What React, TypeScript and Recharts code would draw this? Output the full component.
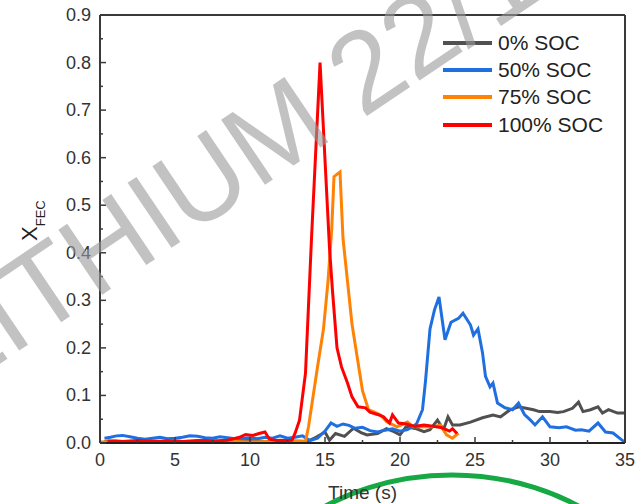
import React from 'react';
import { LineChart, Line, XAxis, YAxis, Legend } from 'recharts';

// 0% SOC
const soc0Time = [
  0.3, 1, 2, 3, 4, 5, 6, 7, 8, 9,
  10, 11, 12, 13, 13.8, 14.4, 15, 15.3, 15.7, 16.3,
  16.9, 17.4, 17.8, 18.5, 19.1, 19.6, 20, 20.4, 21.1, 21.6,
  22, 22.5, 22.9, 23.2, 23.5, 24, 24.7, 25.5, 26.2, 26.7,
  27.3, 27.9, 28.4, 28.9, 29.3, 30, 30.5, 30.9, 31.5, 31.9,
  32.2, 32.7, 33.2, 33.5, 33.9, 34.5, 35,
];
const soc0Values = [
  0.003, 0.004, 0.002, 0.005, 0.003, 0.004, 0.002, 0.005, 0.003, 0.004,
  0.005, 0.003, 0.006, 0.004, 0.003, 0.012, 0.023, 0.006, 0.02, 0.014,
  0.031, 0.022, 0.017, 0.02, 0.03, 0.024, 0.017, 0.034, 0.03, 0.024,
  0.028, 0.048, 0.028, 0.055, 0.038, 0.038, 0.044, 0.053, 0.059, 0.055,
  0.069, 0.076, 0.073, 0.07, 0.066, 0.066, 0.064, 0.066, 0.073, 0.086,
  0.066, 0.07, 0.076, 0.063, 0.07, 0.063, 0.063,
];

// 50% SOC
const soc50Time = [
  0.3, 0.7, 1.1, 1.5, 2, 2.5, 3, 3.5, 4, 4.5,
  5, 5.5, 6, 6.5, 7, 7.5, 8, 8.5, 9, 9.5,
  10, 10.5, 11, 11.5, 12, 12.5, 13, 13.5, 14, 14.5,
  15, 15.4, 15.8, 16.2, 16.6, 17, 17.5, 18, 18.5, 19,
  19.5, 20, 20.5, 21.1, 21.5, 21.7, 22, 22.3, 22.6, 23,
  23.4, 23.9, 24.2, 24.7, 24.9, 25.2, 25.5, 25.7, 26, 26.2,
  26.5, 27, 27.5, 27.9, 28.3, 28.7, 29, 29.5, 30, 30.6,
  31.1, 31.7, 32.1, 32.6, 33.2, 33.7, 34.2, 34.8, 35,
];
const soc50Values = [
  0.01, 0.012, 0.015, 0.016, 0.013, 0.01, 0.008, 0.01, 0.012, 0.009,
  0.01, 0.012, 0.015, 0.014, 0.011, 0.01, 0.013, 0.011, 0.009, 0.01,
  0.011, 0.009, 0.012, 0.01, 0.015, 0.01, 0.012, 0.015, 0.005, 0.01,
  0.025, 0.042, 0.035, 0.04, 0.037, 0.031, 0.033, 0.026, 0.023, 0.027,
  0.03, 0.025, 0.028, 0.04, 0.07, 0.13, 0.24, 0.28, 0.307, 0.217,
  0.254, 0.262, 0.273, 0.248, 0.227, 0.24, 0.19, 0.14, 0.118, 0.126,
  0.084, 0.074, 0.07, 0.084, 0.06, 0.048, 0.038, 0.055, 0.034, 0.032,
  0.034, 0.027, 0.028, 0.025, 0.042, 0.023, 0.021, 0.006, 0.002,
];

// 75% SOC
const soc75Time = [
  0, 1, 2, 3, 4, 5, 6, 7, 8, 9,
  10, 11, 12, 13, 13.7, 13.9, 14.2, 14.5, 14.9, 15.2,
  15.45, 15.6, 16, 16.2, 16.8, 17.3, 17.5, 17.9, 18.3, 18.7,
  19.1, 19.8, 20.5, 20.9, 21.5, 22.2, 22.7, 23.1, 23.5, 23.9,
];
const soc75Values = [
  0.002, 0.003, 0.001, 0.003, 0.002, 0.004, 0.002, 0.003, 0.001, 0.003,
  0.002, 0.003, 0.002, 0.004, 0.003, 0.034, 0.097, 0.16, 0.24, 0.34,
  0.45, 0.56, 0.57, 0.43, 0.25, 0.15, 0.11, 0.07, 0.065, 0.059,
  0.045, 0.034, 0.044, 0.034, 0.034, 0.034, 0.038, 0.017, 0.01, 0.021,
];

// 100% SOC
const soc100Time = [
  0.5, 1.5, 2.5, 3.5, 4.5, 5.5, 6.5, 7.5, 8.5, 9.3,
  9.7, 10.2, 10.6, 11, 11.3, 11.8, 12.3, 12.8, 13, 13.3,
  13.7, 14.1, 14.67, 15.3, 15.5, 15.8, 16.1, 16.5, 16.8, 17.2,
  17.7, 18, 18.5, 18.9, 19.3, 19.5, 19.9, 20.4, 21, 21.6,
  22.2, 22.8, 23.3, 23.5, 23.8,
];
const soc100Values = [
  0.004, 0.003, 0.005, 0.003, 0.004, 0.003, 0.005, 0.004, 0.006, 0.012,
  0.018, 0.016, 0.02, 0.023, 0.008, 0.005, 0.004, 0.006, 0.02, 0.048,
  0.147, 0.43, 0.8, 0.41, 0.32, 0.2, 0.16, 0.126, 0.097, 0.076,
  0.074, 0.065, 0.06, 0.055, 0.042, 0.059, 0.042, 0.04, 0.035, 0.038,
  0.035, 0.032, 0.025, 0.03, 0.02,
];

const xTicks = [0, 2.5, 5, 7.5, 10, 12.5, 15, 17.5, 20, 22.5, 25, 27.5, 30, 32.5, 35];
const yTicks = [
  0, 0.05, 0.1, 0.15, 0.2, 0.25, 0.3, 0.35, 0.4, 0.45,
  0.5, 0.55, 0.6, 0.65, 0.7, 0.75, 0.8, 0.85, 0.9,
];

const FONT = '"Liberation Sans", Arial, sans-serif';
const AXIS_COLOR = '#3a3a3a';

const toPoints = (t: number[], v: number[]) => t.map((x, i) => ({ t: x, v: v[i] }));

const series = [
  { name: '0% SOC', color: '#505050', data: toPoints(soc0Time, soc0Values) },
  { name: '50% SOC', color: '#1f6fe0', data: toPoints(soc50Time, soc50Values) },
  { name: '75% SOC', color: '#ff8205', data: toPoints(soc75Time, soc75Values) },
  { name: '100% SOC', color: '#ff0000', data: toPoints(soc100Time, soc100Values) },
];

const isMajorX = (v: number) => v % 5 === 0;
const isMajorY = (v: number) => Math.round(v * 100) % 10 === 0;

function BottomTick(props: any) {
  const { x, y, payload } = props;
  const major = isMajorX(payload.value);
  return (
    <g>
      <line x1={x} x2={x} y1={y} y2={y - (major ? 6 : 3)} stroke={AXIS_COLOR} strokeWidth={1.5} />
      {major && (
        <text x={x} y={y + 23} textAnchor="middle" fontSize={18} fontFamily={FONT} fill="#333">
          {payload.value}
        </text>
      )}
    </g>
  );
}

function TopTick(props: any) {
  const { x, y, payload } = props;
  const major = isMajorX(payload.value);
  return <line x1={x} x2={x} y1={y} y2={y + (major ? 6 : 3)} stroke={AXIS_COLOR} strokeWidth={1.5} />;
}

function LeftTick(props: any) {
  const { x, y, payload } = props;
  const major = isMajorY(payload.value);
  return (
    <g>
      <line x1={x} x2={x + (major ? 6 : 3)} y1={y} y2={y} stroke={AXIS_COLOR} strokeWidth={1.5} />
      {major && (
        <text x={x - 9} y={y + 6} textAnchor="end" fontSize={18} fontFamily={FONT} fill="#333">
          {payload.value.toFixed(1)}
        </text>
      )}
    </g>
  );
}

function RightTick(props: any) {
  const { x, y, payload } = props;
  const major = isMajorY(payload.value);
  return <line x1={x} x2={x - (major ? 6 : 3)} y1={y} y2={y} stroke={AXIS_COLOR} strokeWidth={1.5} />;
}

function YLabel() {
  return (
    <text transform="translate(37,241) rotate(-90)" fontFamily={FONT} fill="#222">
      <tspan fontSize={22}>X</tspan>
      <tspan fontSize={13} dy={8}>FEC</tspan>
    </text>
  );
}

function renderLegend() {
  return (
    <div style={{ fontFamily: FONT, fontSize: 21, color: '#222' }}>
      {series.map((s) => (
        <div key={s.name} style={{ display: 'flex', alignItems: 'center', height: 27.4 }}>
          <span style={{ display: 'inline-block', width: 49, height: 4, background: s.color, marginRight: 6 }} />
          <span>{s.name}</span>
        </div>
      ))}
    </div>
  );
}

export default function App() {
  return (
    <div style={{ position: 'absolute', left: 0, top: 0, width: 636, height: 504, background: '#fff' }}>
      {/* logo arc sits behind the chart so the axis title stays readable */}
      <svg width={636} height={504} style={{ position: 'absolute', left: 0, top: 0 }}>
        <ellipse cx={452} cy={655} rx={225} ry={180} fill="none" stroke="#16a843" strokeWidth={5} />
      </svg>
      <div style={{ position: 'absolute', left: 0, top: 0 }}>
        <LineChart width={636} height={504} margin={{ top: 0, right: 0, bottom: 0, left: 0 }}>
          <XAxis
            xAxisId="x"
            dataKey="t"
            type="number"
            domain={[0, 35]}
            ticks={xTicks}
            interval={0}
            height={61}
            tickSize={0}
            tickMargin={0}
            tick={<BottomTick />}
            axisLine={{ stroke: '#222', strokeWidth: 2 }}
            label={{ value: 'Time (s)', position: 'insideBottom', offset: 5, fontSize: 19, fontFamily: FONT, fill: '#333' }}
          />
          <XAxis
            xAxisId="top"
            orientation="top"
            type="number"
            domain={[0, 35]}
            ticks={xTicks}
            interval={0}
            height={15}
            tickSize={0}
            tickMargin={0}
            tick={<TopTick />}
            axisLine={{ stroke: AXIS_COLOR, strokeWidth: 2 }}
          />
          <YAxis
            yAxisId="y"
            type="number"
            domain={[0, 0.9]}
            ticks={yTicks}
            interval={0}
            width={100}
            tickSize={0}
            tickMargin={0}
            tick={<LeftTick />}
            axisLine={{ stroke: AXIS_COLOR, strokeWidth: 2 }}
            label={<YLabel />}
          />
          <YAxis
            yAxisId="right"
            orientation="right"
            type="number"
            domain={[0, 0.9]}
            ticks={yTicks}
            interval={0}
            width={11}
            tickSize={0}
            tickMargin={0}
            tick={<RightTick />}
            axisLine={{ stroke: AXIS_COLOR, strokeWidth: 2 }}
          />
          <Legend
            layout="vertical"
            align="center"
            verticalAlign="middle"
            wrapperStyle={{ position: 'absolute', left: 443, top: 29, width: 190, height: 112 }}
            content={renderLegend}
          />
          {series.map((s) => (
            <Line
              key={s.name}
              xAxisId="x"
              yAxisId="y"
              data={s.data}
              dataKey="v"
              name={s.name}
              type="linear"
              stroke={s.color}
              strokeWidth={3}
              dot={false}
              activeDot={false}
              isAnimationActive={false}
            />
          ))}
        </LineChart>
      </div>
      <svg
        width={636}
        height={504}
        style={{ position: 'absolute', left: 0, top: 0, pointerEvents: 'none' }}
      >
        <text
          transform="translate(-42,392) rotate(-34)"
          fontFamily={FONT}
          fontSize={114}
          fill="#999"
          fillOpacity={0.6}
        >
          LITHIUM 22/1
        </text>
      </svg>
    </div>
  );
}
